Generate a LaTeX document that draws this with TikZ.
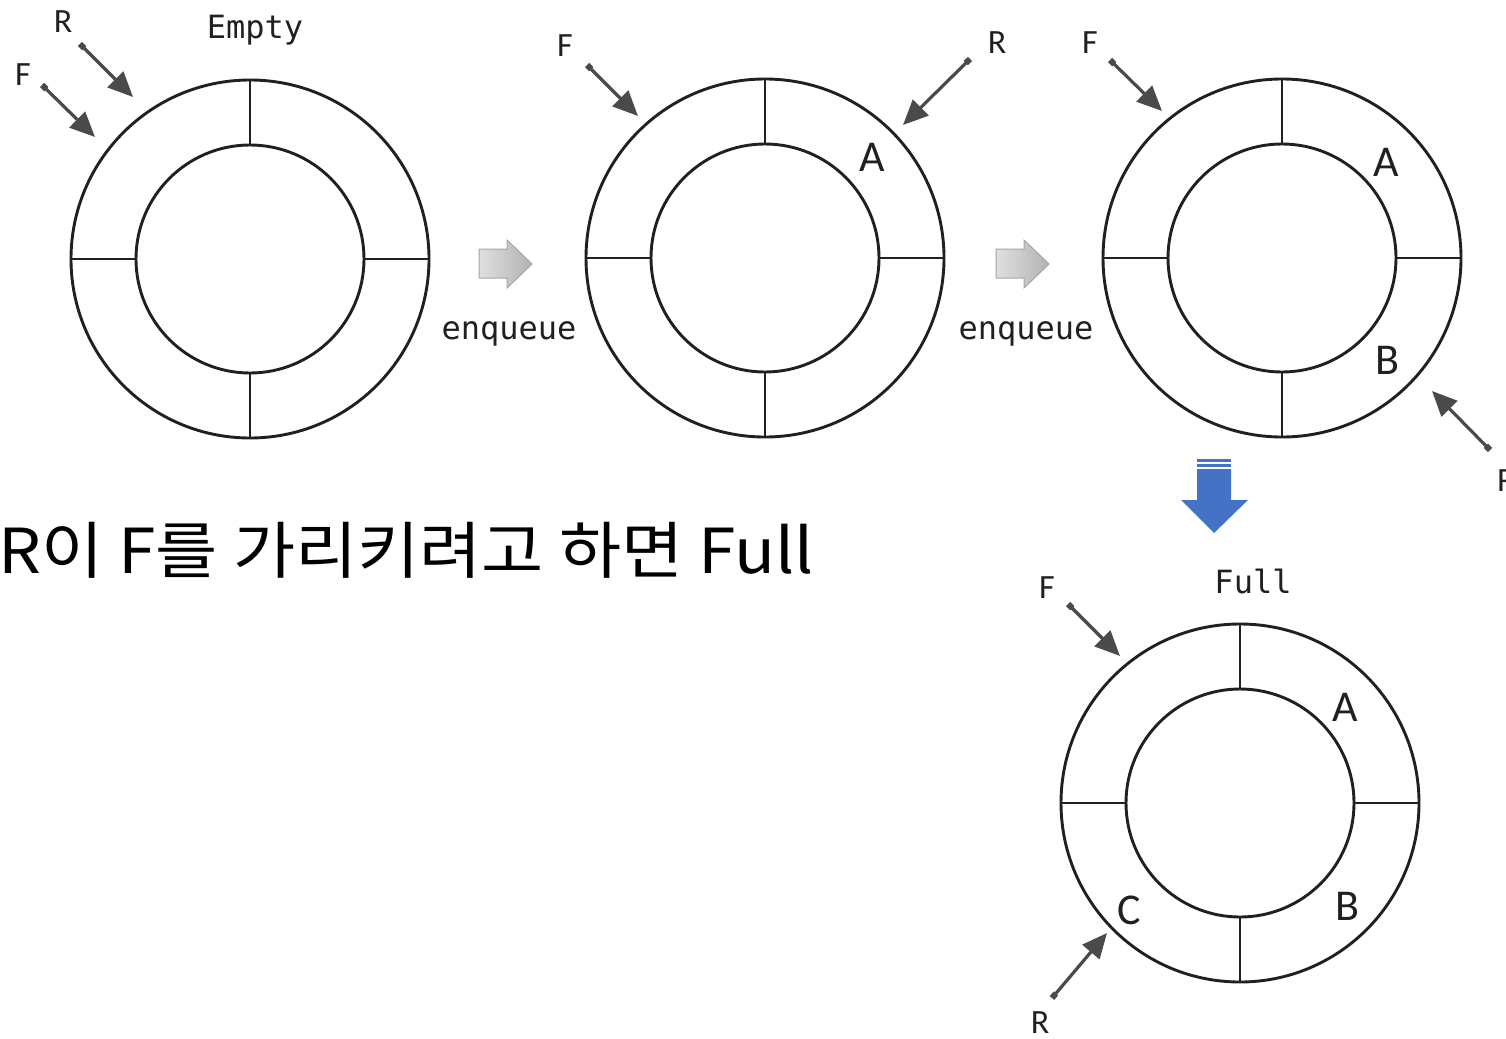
\documentclass[tikz,border=0pt]{standalone}
\usepackage{fontspec}
\setmainfont{Carlito}
\newfontfamily\monof{DejaVu Sans Mono}
\newfontfamily\krf{Noto Sans CJK KR}
\usetikzlibrary{arrows.meta}
\definecolor{ringc}{HTML}{231F20}
\definecolor{ptrc}{HTML}{4A4A4A}
\definecolor{blueA}{HTML}{4472C4}
\tikzset{
  outerring/.style={circle,draw=ringc,line width=2.9pt,minimum size=358pt,inner sep=0pt,outer sep=0pt},
  innerring/.style={circle,draw=ringc,line width=2.9pt,minimum size=228pt,inner sep=0pt,outer sep=0pt},
  divider/.style={draw=ringc,line width=2.9pt},
  ptr/.style={draw=ptrc,line width=3.2pt,{Square[length=6pt,width=6pt]}-{Triangle[length=25pt,width=22pt]}},
  ptrlab/.style={font=\fontsize{34}{34}\selectfont,text=ringc,inner sep=0pt},
  slotlab/.style={font=\fontsize{44}{44}\selectfont,text=ringc,inner sep=0pt},
  monolab/.style={font=\monof\fontsize{32}{32}\selectfont,text=ringc,inner sep=0pt},
  grayarrow/.style={left color=gray!25,right color=gray!60,draw=gray!70,line width=1pt},
}
\begin{document}
\begin{tikzpicture}[x=1pt,y=-1pt]
\clip (0,0) rectangle (1506,1038);
\fill[white] (0,0) rectangle (1506,1038);

% ---- rings ----
\foreach \n/\cx/\cy in {a/250/259, b/765/258, c/1282/258, d/1240/803}{
  \node[outerring] (\n o) at (\cx,\cy) {};
  \node[innerring] (\n i) at (\cx,\cy) {};
  \draw[divider] (\n o.north) -- (\n i.north);
  \draw[divider] (\n o.south) -- (\n i.south);
  \draw[divider] (\n o.west) -- (\n i.west);
  \draw[divider] (\n o.east) -- (\n i.east);
}

% ---- ring 1 ----
\node[ptrlab] (aR) at (63,22) {R};
\node[ptrlab] (aF) at (23,75) {F};
\coordinate (aRt) at (80,44); \coordinate (aRh) at (133,97);
\coordinate (aFt) at (42,85); \coordinate (aFh) at (95,137);
\draw[ptr] (aRt) -- (aRh);
\draw[ptr] (aFt) -- (aFh);
\node[monolab] (empty) at (255,30) {Empty};

% ---- ring 2 ----
\node[ptrlab] (bF) at (565,46) {F};
\node[ptrlab] (bR) at (997,43) {R};
\coordinate (bFt) at (587,65); \coordinate (bFh) at (638,116);
\coordinate (bRt) at (970,59); \coordinate (bRh) at (903,125);
\draw[ptr] (bFt) -- (bFh);
\draw[ptr] (bRt) -- (bRh);
\node[slotlab] (bA) at (872,157) {A};

% ---- ring 3 ----
\node[ptrlab] (cF) at (1090,43) {F};
\coordinate (cFt) at (1110,60); \coordinate (cFh) at (1162,111);
\draw[ptr] (cFt) -- (cFh);
\node[slotlab] (cA) at (1386,162) {A};
\node[slotlab] (cB) at (1387,360) {B};
\coordinate (cRt) at (1490,450); \coordinate (cRh) at (1432,391);
\draw[ptr] (cRt) -- (cRh);
\node[ptrlab,anchor=west] (cR) at (1497,481) {R};

% ---- ring 4 ----
\node[ptrlab] (dF) at (1047,588) {F};
\coordinate (dFt) at (1068,604); \coordinate (dFh) at (1120,656);
\draw[ptr] (dFt) -- (dFh);
\node[monolab] (full) at (1253,581) {Full};
\node[slotlab] (dA) at (1345,707) {A};
\node[slotlab] (dB) at (1347,906) {B};
\node[slotlab] (dC) at (1129,910) {C};
\coordinate (dRt) at (1052,998); \coordinate (dRh) at (1107,933);
\draw[ptr] (dRt) -- (dRh);
\node[ptrlab] (dR) at (1040,1023) {R};

% ---- enqueue arrows ----
\foreach \ox/\lx in {0/509, 517/1026}{
  \begin{scope}[xshift=\ox pt]
    \shade[grayarrow] (479,249) -- (507,249) -- (507,240) -- (532,264) -- (507,288) -- (507,278) -- (479,278) -- cycle;
  \end{scope}
  \node[monolab] at (\lx,334) {enqueue};
}

% ---- blue down arrow ----
\fill[blueA] (1197,459) rectangle (1231,461.5);
\fill[blueA] (1197,463.5) rectangle (1231,467);
\fill[blueA] (1197,469) -- (1231,469) -- (1231,500) -- (1248,500) -- (1214,533) -- (1181,500) -- (1197,500) -- cycle;

% ---- Korean caption ----
\node[font=\krf\fontsize{62}{62}\selectfont,anchor=base west,inner sep=0pt,xscale=1.09] (cap) at (-2,573) {R이 F를 가리키려고 하면 Full};
\end{tikzpicture}
\end{document}
